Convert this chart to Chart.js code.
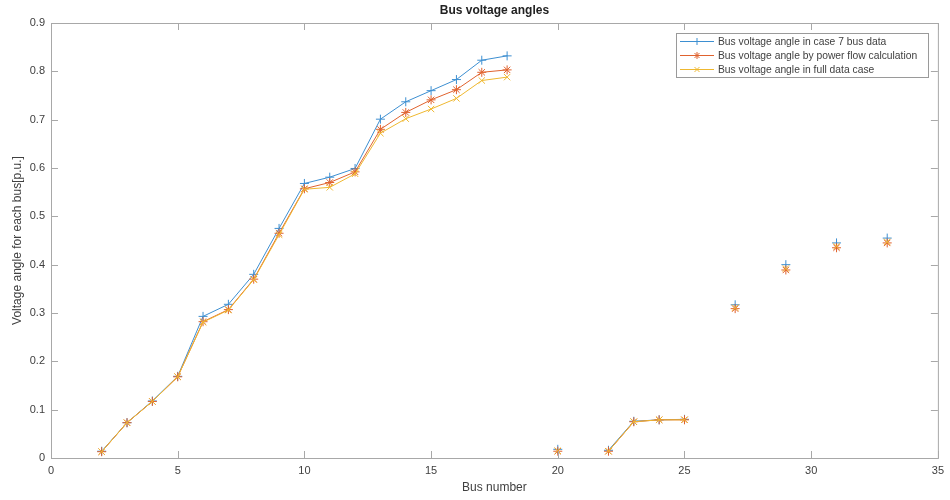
<!DOCTYPE html>
<html>
<head>
<meta charset="utf-8">
<script src="https://cdn.jsdelivr.net/npm/chart.js@4.4.0/dist/chart.umd.min.js"></script>
<style>
  html, body { margin: 0; padding: 0; background: #fff; }
  #wrap { width: 950px; height: 500px; position: relative; }
</style>
</head>
<body>
<div id="wrap"><canvas id="grafico"></canvas></div>
<script>
// bus numbers 2..33, null = no value for that bus
const barras = [2, 3, 4, 5, 6, 7, 8, 9, 10, 11, 12, 13, 14, 15, 16, 17, 18, 19, 20, 21, 22, 23, 24, 25, 26, 27, 28, 29, 30, 31, 32, 33];

const angCaso7 = [0.014, 0.073, 0.118, 0.169, 0.293, 0.318, 0.380, 0.475, 0.568, 0.581, 0.599, 0.701, 0.737, 0.760, 0.783, 0.823, 0.832,
  null, 0.018, null, 0.016, 0.076, 0.079, 0.080, null, 0.317, null, 0.400, null, 0.445, null, 0.455];
const angFluxo = [0.013, 0.073, 0.117, 0.168, 0.282, 0.307, 0.370, 0.465, 0.557, 0.570, 0.592, 0.680, 0.715, 0.741, 0.762, 0.798, 0.803,
  null, 0.014, null, 0.014, 0.075, 0.079, 0.079, null, 0.309, null, 0.389, null, 0.435, null, 0.445];
const angCompleto = [0.013, 0.073, 0.117, 0.168, 0.281, 0.306, 0.369, 0.462, 0.556, 0.560, 0.588, 0.672, 0.702, 0.722, 0.744, 0.781, 0.788,
  null, 0.015, null, 0.014, 0.075, 0.079, 0.079, null, 0.311, null, 0.392, null, 0.438, null, 0.447];

const xTicks = [0, 5, 10, 15, 20, 25, 30, 35];
const yTicks = [0, 0.1, 0.2, 0.3, 0.4, 0.5, 0.6, 0.7, 0.8, 0.9];

const SERIES = [
  { label: "Bus voltage angle in case 7 bus data", data: angCaso7, cor: "#3d8fd1", marca: "cross" },
  { label: "Bus voltage angle by power flow calculation", data: angFluxo, cor: "#e0622e", marca: "star" },
  { label: "Bus voltage angle in full data case", data: angCompleto, cor: "#efb830", marca: "crossRot" }
];

const FONTE = "'Liberation Sans', Arial, sans-serif";
const COR_TEXTO = "#404040";
const COR_EIXO = "#a8a8a8";

// desenha caixa, ticks internos, títulos e legenda ao estilo matlab
const molduraPlugin = {
  id: "moldura",
  afterDraw(chart) {
    const { ctx, chartArea: a, scales } = chart;
    ctx.save();
    ctx.strokeStyle = COR_EIXO;
    ctx.lineWidth = 1;
    ctx.strokeRect(a.left + 0.5, a.top + 0.5, a.right - a.left, a.bottom - a.top);

    ctx.beginPath();
    xTicks.forEach(v => {
      const px = Math.round(scales.x.getPixelForValue(v)) + 0.5;
      ctx.moveTo(px, a.bottom); ctx.lineTo(px, a.bottom - 7);
      ctx.moveTo(px, a.top); ctx.lineTo(px, a.top + 7);
    });
    yTicks.forEach(v => {
      const py = Math.round(scales.y.getPixelForValue(v)) + 0.5;
      ctx.moveTo(a.left, py); ctx.lineTo(a.left + 7, py);
      ctx.moveTo(a.right, py); ctx.lineTo(a.right - 7, py);
    });
    ctx.stroke();

    // títulos
    ctx.fillStyle = "#222";
    ctx.textAlign = "center";
    ctx.textBaseline = "middle";
    ctx.font = "bold 12px " + FONTE;
    ctx.fillText("Bus voltage angles", (a.left + a.right) / 2, 11);
    ctx.fillStyle = COR_TEXTO;
    ctx.font = "12px " + FONTE;
    ctx.fillText("Bus number", (a.left + a.right) / 2, 488);
    ctx.save();
    ctx.translate(18, (a.top + a.bottom) / 2);
    ctx.rotate(-Math.PI / 2);
    ctx.fillText("Voltage angle for each bus[p.u.]", 0, 0);
    ctx.restore();

    // legenda
    const lx = 676, ly = 33, lw = 252, lh = 44;
    ctx.fillStyle = "#fff";
    ctx.fillRect(lx, ly, lw, lh);
    ctx.strokeStyle = "#9a9a9a";
    ctx.strokeRect(lx + 0.5, ly + 0.5, lw, lh);
    ctx.font = "10.3px " + FONTE;
    ctx.textAlign = "left";
    SERIES.forEach((s, i) => {
      const y = ly + 8 + i * 14;
      ctx.strokeStyle = s.cor;
      ctx.lineWidth = 1;
      ctx.beginPath();
      ctx.moveTo(lx + 4, y + 0.5); ctx.lineTo(lx + 38, y + 0.5);
      ctx.stroke();
      Chart.helpers.drawPoint(ctx, { pointStyle: s.marca, radius: 3.5, borderWidth: 1 }, lx + 21, y + 0.5);
      ctx.fillStyle = COR_TEXTO;
      ctx.fillText(s.label, lx + 42, y + 1);
    });
    ctx.restore();
  }
};

new Chart(document.getElementById("grafico").getContext("2d"), {
  type: "line",
  data: {
    labels: barras,
    datasets: SERIES.map((s, i) => ({
      label: s.label,
      data: s.data.map((v, j) => ({ x: barras[j], y: v })),
      borderColor: s.cor,
      backgroundColor: s.cor,
      borderWidth: 1,
      pointStyle: s.marca,
      pointRadius: 4.5,
      pointBorderWidth: 1,
      pointHoverRadius: 4.5,
      spanGaps: false,
      fill: false,
      tension: 0,
      order: 3 - i
    }))
  },
  options: {
    responsive: true,
    maintainAspectRatio: false,
    animation: false,
    layout: { padding: { left: 0, top: 23, right: 12, bottom: 0 } },
    plugins: {
      legend: { display: false },
      title: { display: false },
      tooltip: { enabled: false }
    },
    scales: {
      x: {
        type: "linear",
        min: 0, max: 35,
        afterFit: s => { s.height = 42; },
        afterBuildTicks: s => { s.ticks = xTicks.map(v => ({ value: v })); },
        grid: { display: false, drawTicks: false },
        border: { display: false },
        ticks: { padding: 6, color: COR_TEXTO, font: { family: FONTE, size: 11 }, maxRotation: 0 }
      },
      y: {
        min: 0, max: 0.9,
        afterFit: s => { s.width = 51; },
        afterBuildTicks: s => { s.ticks = yTicks.map(v => ({ value: v })); },
        grid: { display: false, drawTicks: false },
        border: { display: false },
        ticks: { padding: 6, color: COR_TEXTO, font: { family: FONTE, size: 11 }, callback: v => String(+v.toFixed(1)) }
      }
    }
  },
  plugins: [molduraPlugin]
});
</script>
</body>
</html>
